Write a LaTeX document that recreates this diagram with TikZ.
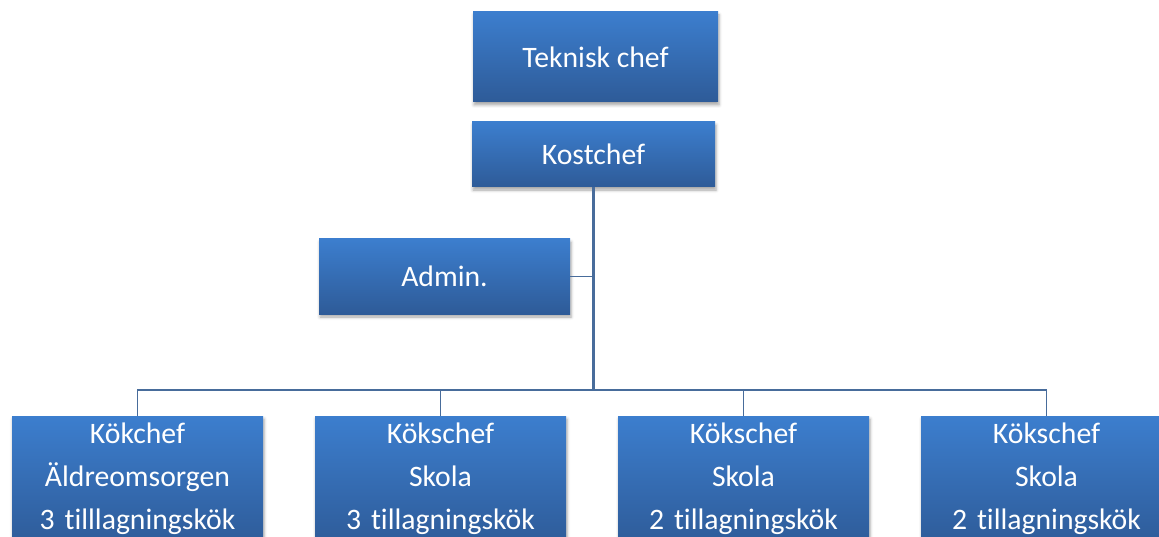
\documentclass[tikz,border=0pt]{standalone}
\usepackage{fontspec}
\setmainfont{Carlito}[Ligatures=NoCommon]
\usetikzlibrary{shadows.blur}
\definecolor{boxtop}{RGB}{60,126,206}
\definecolor{boxbot}{RGB}{46,91,152}
\definecolor{linec}{RGB}{72,108,155}
\tikzset{
  orgbox/.style={rectangle, draw=none, top color=boxtop, bottom color=boxbot,
    blur shadow={shadow xshift=1pt, shadow yshift=-3pt, shadow blur radius=3pt, shadow opacity=35},
    inner sep=0pt},
  boxtext/.style={text=white, font=\fontsize{29.7}{43}\selectfont},
  conn/.style={draw=linec, line width=1.7pt},
}
\begin{document}
\begin{tikzpicture}[x=1pt,y=-1pt]
\useasboundingbox (0,0) rectangle (1159,537);
\clip (0,0) rectangle (1159,537);
\coordinate (hbus) at (0,390);
% boxes
\node[orgbox, boxtext, minimum width=245pt, minimum height=90pt] (tek) at (595.5,57) {Teknisk chef};
\node[orgbox, boxtext, minimum width=243pt, minimum height=65pt] (kost) at (593.5,154.5) {Kostchef};
\node[orgbox, boxtext, minimum width=251pt, minimum height=75pt] (admin) at (444.5,276.5) {Admin.};
\node[orgbox, minimum width=251pt, minimum height=130pt] (k1) at (137.5,481) {};
\node[orgbox, minimum width=251pt, minimum height=130pt] (k2) at (440.5,481) {};
\node[orgbox, minimum width=251pt, minimum height=130pt] (k3) at (743.5,481) {};
\node[orgbox, minimum width=251pt, minimum height=130pt] (k4) at (1046.5,481) {};
% texts of bottom boxes
\node[boxtext, anchor=base, text width=251pt, align=center, inner sep=0pt] (k1t) at (137.5,443) {Kökchef\\Äldreomsorgen\\3 tilllagningskök};
\node[boxtext, anchor=base, text width=251pt, align=center, inner sep=0pt] (k2t) at (440.5,443) {Kökschef\\Skola\\3 tillagningskök};
\node[boxtext, anchor=base, text width=251pt, align=center, inner sep=0pt] (k3t) at (743.5,443) {Kökschef\\Skola\\2 tillagningskök};
\node[boxtext, anchor=base, text width=251pt, align=center, inner sep=0pt] (k4t) at (1046.5,443) {Kökschef\\Skola\\2 tillagningskök};
% connectors
\draw[conn, line width=2.2pt] (kost.south) -- (kost.south |- hbus);
\draw[conn] (admin.east) -- (admin.east -| kost.south);
\draw[conn] (k1.north) -- (k1.north |- hbus) -- (k4.north |- hbus) -- (k4.north);
\draw[conn] (k2.north) -- (k2.north |- hbus);
\draw[conn] (k3.north) -- (k3.north |- hbus);
\end{tikzpicture}
\end{document}
